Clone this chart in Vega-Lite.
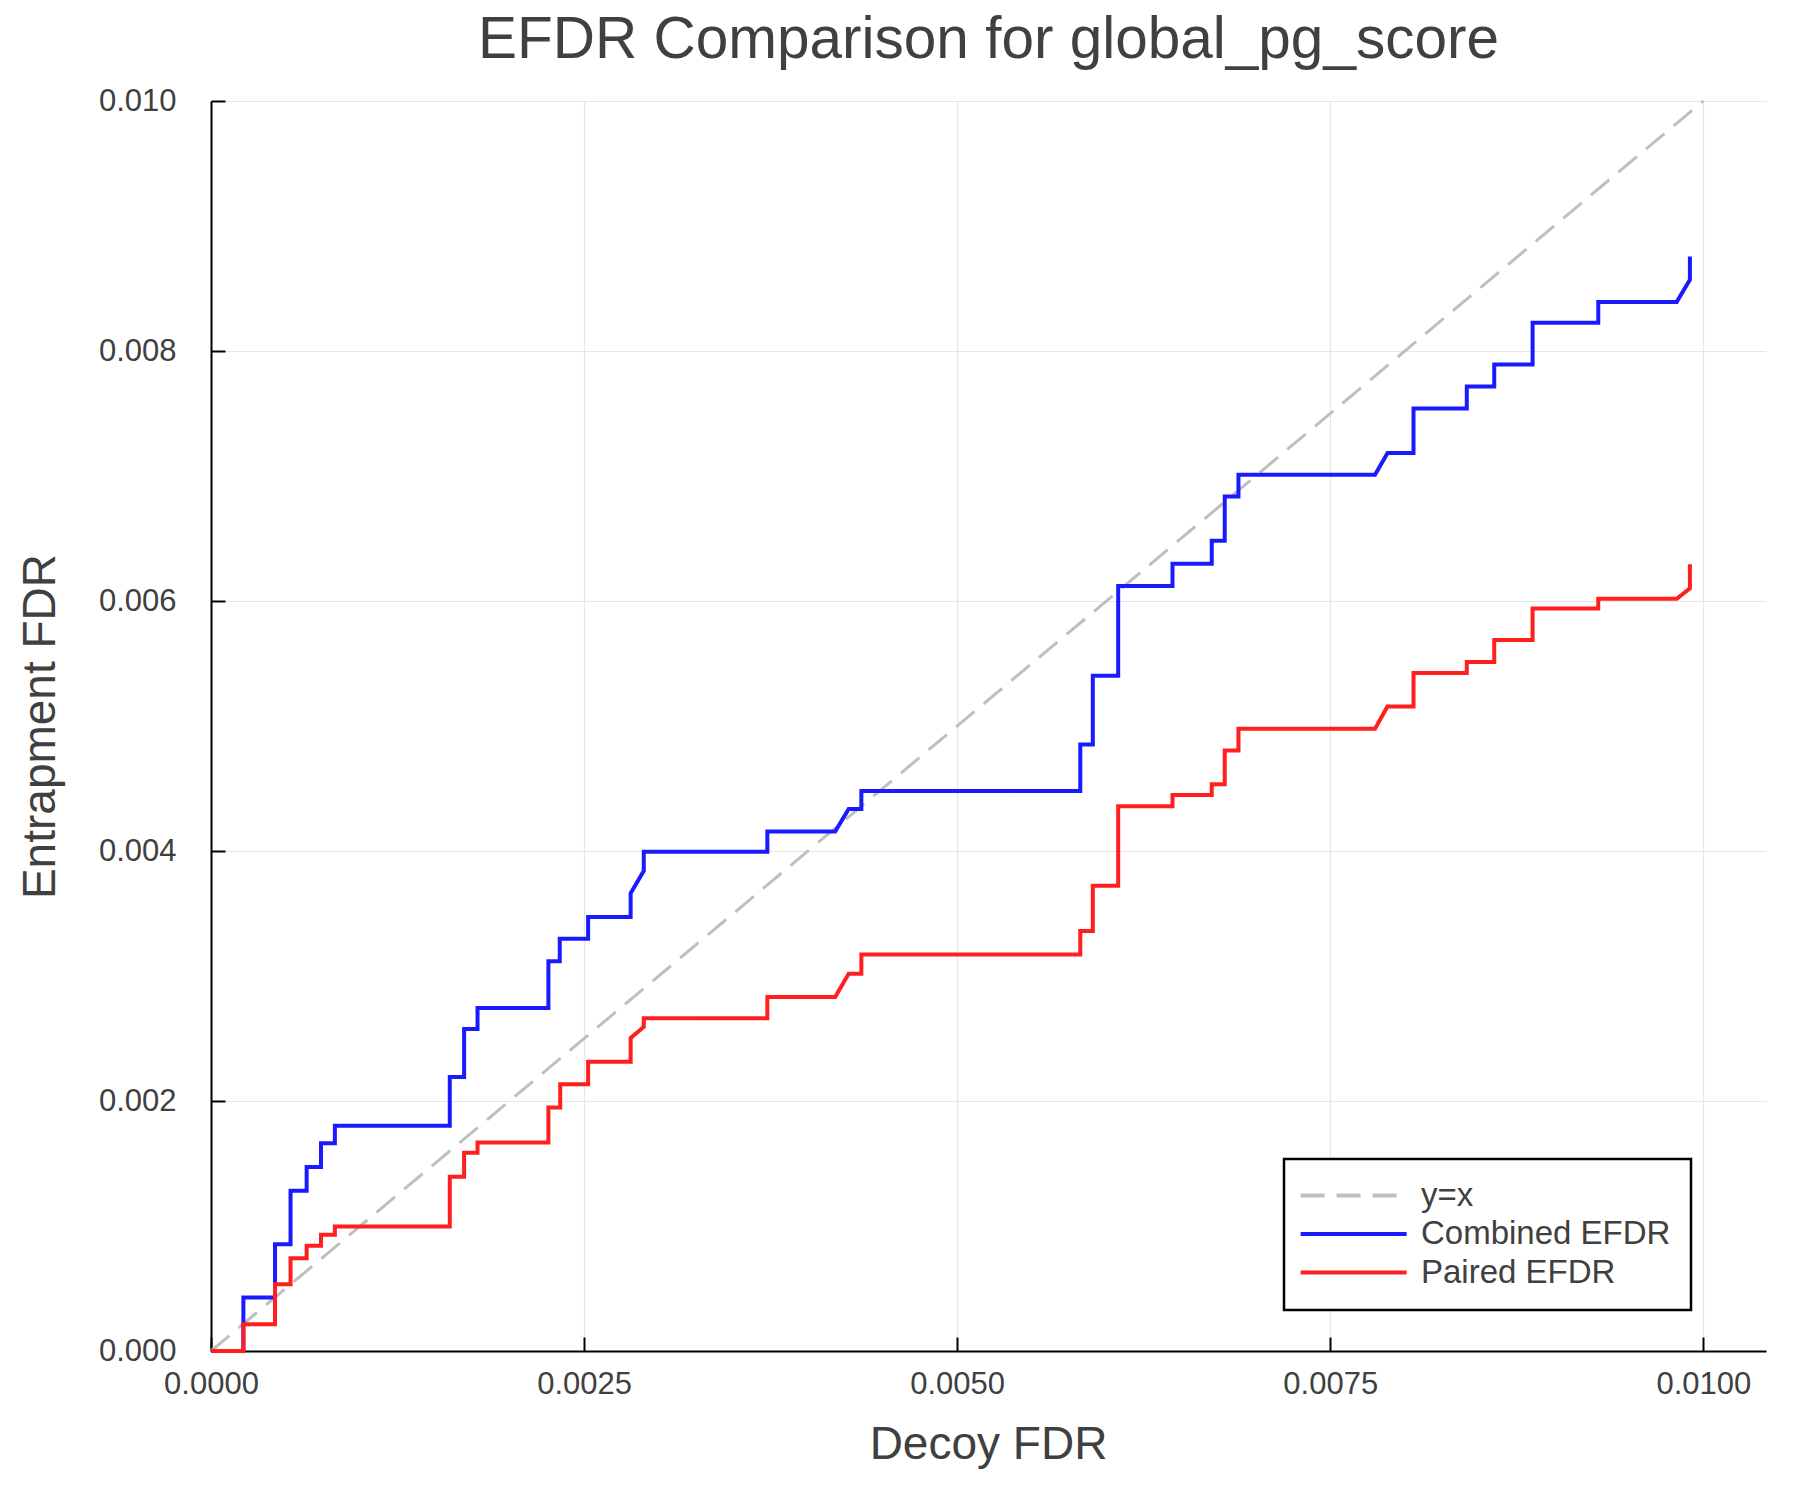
{
  "$schema": "https://vega.github.io/schema/vega-lite/v6.json",
  "width": 1555,
  "height": 1250,
  "autosize": {"type": "none"},
  "padding": {"left": 211, "top": 101, "right": 34, "bottom": 149},
  "background": "white",
  "title": {
    "text": "EFDR Comparison for global_pg_score",
    "fontSize": 58.5,
    "font": "Liberation Sans",
    "fontWeight": "normal",
    "color": "#404040",
    "anchor": "middle",
    "baseline": "alphabetic",
    "offset": 30,
    "dy": 61
  },
  "data": {
    "values": [
      {"series": "y=x", "i": 0, "x": 0, "y": 0},
      {"series": "y=x", "i": 1, "x": 0.01, "y": 0.01},

      {"series": "Combined EFDR", "i": 0, "x": 0, "y": 0},
      {"series": "Combined EFDR", "i": 1, "x": 0.000217, "y": 0},
      {"series": "Combined EFDR", "i": 2, "x": 0.000217, "y": 0.000429},
      {"series": "Combined EFDR", "i": 3, "x": 0.000429, "y": 0.000429},
      {"series": "Combined EFDR", "i": 4, "x": 0.000429, "y": 0.000855},
      {"series": "Combined EFDR", "i": 5, "x": 0.000533, "y": 0.000855},
      {"series": "Combined EFDR", "i": 6, "x": 0.000533, "y": 0.001282},
      {"series": "Combined EFDR", "i": 7, "x": 0.000641, "y": 0.001282},
      {"series": "Combined EFDR", "i": 8, "x": 0.000641, "y": 0.001472},
      {"series": "Combined EFDR", "i": 9, "x": 0.000737, "y": 0.001472},
      {"series": "Combined EFDR", "i": 10, "x": 0.000737, "y": 0.001662},
      {"series": "Combined EFDR", "i": 11, "x": 0.00083, "y": 0.001662},
      {"series": "Combined EFDR", "i": 12, "x": 0.00083, "y": 0.001802},
      {"series": "Combined EFDR", "i": 13, "x": 0.0016, "y": 0.001802},
      {"series": "Combined EFDR", "i": 14, "x": 0.0016, "y": 0.002193},
      {"series": "Combined EFDR", "i": 15, "x": 0.001696, "y": 0.002193},
      {"series": "Combined EFDR", "i": 16, "x": 0.001696, "y": 0.002577},
      {"series": "Combined EFDR", "i": 17, "x": 0.001786, "y": 0.002577},
      {"series": "Combined EFDR", "i": 18, "x": 0.001786, "y": 0.002745},
      {"series": "Combined EFDR", "i": 19, "x": 0.002261, "y": 0.002745},
      {"series": "Combined EFDR", "i": 20, "x": 0.002261, "y": 0.003119},
      {"series": "Combined EFDR", "i": 21, "x": 0.002337, "y": 0.003119},
      {"series": "Combined EFDR", "i": 22, "x": 0.002337, "y": 0.003299},
      {"series": "Combined EFDR", "i": 23, "x": 0.002527, "y": 0.003299},
      {"series": "Combined EFDR", "i": 24, "x": 0.002527, "y": 0.003472},
      {"series": "Combined EFDR", "i": 25, "x": 0.002812, "y": 0.003472},
      {"series": "Combined EFDR", "i": 26, "x": 0.002812, "y": 0.003662},
      {"series": "Combined EFDR", "i": 27, "x": 0.0029, "y": 0.003841},
      {"series": "Combined EFDR", "i": 28, "x": 0.0029, "y": 0.003994},
      {"series": "Combined EFDR", "i": 29, "x": 0.003728, "y": 0.003994},
      {"series": "Combined EFDR", "i": 30, "x": 0.003728, "y": 0.004157},
      {"series": "Combined EFDR", "i": 31, "x": 0.004183, "y": 0.004157},
      {"series": "Combined EFDR", "i": 32, "x": 0.004273, "y": 0.004336},
      {"series": "Combined EFDR", "i": 33, "x": 0.004358, "y": 0.004336},
      {"series": "Combined EFDR", "i": 34, "x": 0.004358, "y": 0.004481},
      {"series": "Combined EFDR", "i": 35, "x": 0.005825, "y": 0.004481},
      {"series": "Combined EFDR", "i": 36, "x": 0.005825, "y": 0.004852},
      {"series": "Combined EFDR", "i": 37, "x": 0.005909, "y": 0.004852},
      {"series": "Combined EFDR", "i": 38, "x": 0.005909, "y": 0.005403},
      {"series": "Combined EFDR", "i": 39, "x": 0.006079, "y": 0.005403},
      {"series": "Combined EFDR", "i": 40, "x": 0.006079, "y": 0.00612},
      {"series": "Combined EFDR", "i": 41, "x": 0.006443, "y": 0.00612},
      {"series": "Combined EFDR", "i": 42, "x": 0.006443, "y": 0.006298},
      {"series": "Combined EFDR", "i": 43, "x": 0.006706, "y": 0.006298},
      {"series": "Combined EFDR", "i": 44, "x": 0.006706, "y": 0.006482},
      {"series": "Combined EFDR", "i": 45, "x": 0.006793, "y": 0.006482},
      {"series": "Combined EFDR", "i": 46, "x": 0.006793, "y": 0.006837},
      {"series": "Combined EFDR", "i": 47, "x": 0.006885, "y": 0.006837},
      {"series": "Combined EFDR", "i": 48, "x": 0.006885, "y": 0.00701},
      {"series": "Combined EFDR", "i": 49, "x": 0.0078, "y": 0.00701},
      {"series": "Combined EFDR", "i": 50, "x": 0.007884, "y": 0.007184},
      {"series": "Combined EFDR", "i": 51, "x": 0.008058, "y": 0.007184},
      {"series": "Combined EFDR", "i": 52, "x": 0.008058, "y": 0.00754},
      {"series": "Combined EFDR", "i": 53, "x": 0.008415, "y": 0.00754},
      {"series": "Combined EFDR", "i": 54, "x": 0.008415, "y": 0.007716},
      {"series": "Combined EFDR", "i": 55, "x": 0.008599, "y": 0.007716},
      {"series": "Combined EFDR", "i": 56, "x": 0.008599, "y": 0.007893},
      {"series": "Combined EFDR", "i": 57, "x": 0.008856, "y": 0.007893},
      {"series": "Combined EFDR", "i": 58, "x": 0.008856, "y": 0.008227},
      {"series": "Combined EFDR", "i": 59, "x": 0.009296, "y": 0.008227},
      {"series": "Combined EFDR", "i": 60, "x": 0.009296, "y": 0.008393},
      {"series": "Combined EFDR", "i": 61, "x": 0.009822, "y": 0.008393},
      {"series": "Combined EFDR", "i": 62, "x": 0.00991, "y": 0.00857},
      {"series": "Combined EFDR", "i": 63, "x": 0.00991, "y": 0.008757},

      {"series": "Paired EFDR", "i": 0, "x": 0, "y": 0},
      {"series": "Paired EFDR", "i": 1, "x": 0.000217, "y": 0},
      {"series": "Paired EFDR", "i": 2, "x": 0.000217, "y": 0.000214},
      {"series": "Paired EFDR", "i": 3, "x": 0.000429, "y": 0.000214},
      {"series": "Paired EFDR", "i": 4, "x": 0.000429, "y": 0.000534},
      {"series": "Paired EFDR", "i": 5, "x": 0.000533, "y": 0.000534},
      {"series": "Paired EFDR", "i": 6, "x": 0.000533, "y": 0.000743},
      {"series": "Paired EFDR", "i": 7, "x": 0.000641, "y": 0.000743},
      {"series": "Paired EFDR", "i": 8, "x": 0.000641, "y": 0.000842},
      {"series": "Paired EFDR", "i": 9, "x": 0.000737, "y": 0.000842},
      {"series": "Paired EFDR", "i": 10, "x": 0.000737, "y": 0.00093},
      {"series": "Paired EFDR", "i": 11, "x": 0.00083, "y": 0.00093},
      {"series": "Paired EFDR", "i": 12, "x": 0.00083, "y": 0.000997},
      {"series": "Paired EFDR", "i": 13, "x": 0.0016, "y": 0.000997},
      {"series": "Paired EFDR", "i": 14, "x": 0.0016, "y": 0.001394},
      {"series": "Paired EFDR", "i": 15, "x": 0.001696, "y": 0.001394},
      {"series": "Paired EFDR", "i": 16, "x": 0.001696, "y": 0.001587},
      {"series": "Paired EFDR", "i": 17, "x": 0.001786, "y": 0.001587},
      {"series": "Paired EFDR", "i": 18, "x": 0.001786, "y": 0.001668},
      {"series": "Paired EFDR", "i": 19, "x": 0.002261, "y": 0.001668},
      {"series": "Paired EFDR", "i": 20, "x": 0.002261, "y": 0.001949},
      {"series": "Paired EFDR", "i": 21, "x": 0.00234, "y": 0.001949},
      {"series": "Paired EFDR", "i": 22, "x": 0.00234, "y": 0.002134},
      {"series": "Paired EFDR", "i": 23, "x": 0.002527, "y": 0.002134},
      {"series": "Paired EFDR", "i": 24, "x": 0.002527, "y": 0.002314},
      {"series": "Paired EFDR", "i": 25, "x": 0.002812, "y": 0.002314},
      {"series": "Paired EFDR", "i": 26, "x": 0.002812, "y": 0.002504},
      {"series": "Paired EFDR", "i": 27, "x": 0.0029, "y": 0.002593},
      {"series": "Paired EFDR", "i": 28, "x": 0.0029, "y": 0.002662},
      {"series": "Paired EFDR", "i": 29, "x": 0.003728, "y": 0.002662},
      {"series": "Paired EFDR", "i": 30, "x": 0.003728, "y": 0.002833},
      {"series": "Paired EFDR", "i": 31, "x": 0.004183, "y": 0.002833},
      {"series": "Paired EFDR", "i": 32, "x": 0.004273, "y": 0.003018},
      {"series": "Paired EFDR", "i": 33, "x": 0.004358, "y": 0.003018},
      {"series": "Paired EFDR", "i": 34, "x": 0.004358, "y": 0.003173},
      {"series": "Paired EFDR", "i": 35, "x": 0.005825, "y": 0.003173},
      {"series": "Paired EFDR", "i": 36, "x": 0.005825, "y": 0.00336},
      {"series": "Paired EFDR", "i": 37, "x": 0.005909, "y": 0.00336},
      {"series": "Paired EFDR", "i": 38, "x": 0.005909, "y": 0.003722},
      {"series": "Paired EFDR", "i": 39, "x": 0.006079, "y": 0.003722},
      {"series": "Paired EFDR", "i": 40, "x": 0.006079, "y": 0.004358},
      {"series": "Paired EFDR", "i": 41, "x": 0.006443, "y": 0.004358},
      {"series": "Paired EFDR", "i": 42, "x": 0.006443, "y": 0.004448},
      {"series": "Paired EFDR", "i": 43, "x": 0.006706, "y": 0.004448},
      {"series": "Paired EFDR", "i": 44, "x": 0.006706, "y": 0.004534},
      {"series": "Paired EFDR", "i": 45, "x": 0.006793, "y": 0.004534},
      {"series": "Paired EFDR", "i": 46, "x": 0.006793, "y": 0.004804},
      {"series": "Paired EFDR", "i": 47, "x": 0.006885, "y": 0.004804},
      {"series": "Paired EFDR", "i": 48, "x": 0.006885, "y": 0.004978},
      {"series": "Paired EFDR", "i": 49, "x": 0.0078, "y": 0.004978},
      {"series": "Paired EFDR", "i": 50, "x": 0.007884, "y": 0.005157},
      {"series": "Paired EFDR", "i": 51, "x": 0.008058, "y": 0.005157},
      {"series": "Paired EFDR", "i": 52, "x": 0.008058, "y": 0.005425},
      {"series": "Paired EFDR", "i": 53, "x": 0.008415, "y": 0.005425},
      {"series": "Paired EFDR", "i": 54, "x": 0.008415, "y": 0.005513},
      {"series": "Paired EFDR", "i": 55, "x": 0.008599, "y": 0.005513},
      {"series": "Paired EFDR", "i": 56, "x": 0.008599, "y": 0.005689},
      {"series": "Paired EFDR", "i": 57, "x": 0.008856, "y": 0.005689},
      {"series": "Paired EFDR", "i": 58, "x": 0.008856, "y": 0.005941},
      {"series": "Paired EFDR", "i": 59, "x": 0.009296, "y": 0.005941},
      {"series": "Paired EFDR", "i": 60, "x": 0.009296, "y": 0.006018},
      {"series": "Paired EFDR", "i": 61, "x": 0.009822, "y": 0.006018},
      {"series": "Paired EFDR", "i": 62, "x": 0.00991, "y": 0.006101},
      {"series": "Paired EFDR", "i": 63, "x": 0.00991, "y": 0.006294}
    ]
  },
  "encoding": {
    "x": {
      "field": "x",
      "type": "quantitative",
      "title": "Decoy FDR",
      "scale": {"domain": [0, 0.01042], "nice": false, "zero": false},
      "axis": {
        "values": [0, 0.0025, 0.005, 0.0075, 0.01],
        "format": ".4f",
        "labelFlush": false,
        "labelOverlap": false,
        "labelPadding": 32,
        "titleX": 777,
        "titleY": 107,
        "titleAlign": "center",
        "titleBaseline": "alphabetic"
      }
    },
    "y": {
      "field": "y",
      "type": "quantitative",
      "title": "Entrapment FDR",
      "scale": {"domain": [0, 0.01], "nice": false, "zero": false},
      "axis": {
        "values": [0, 0.002, 0.004, 0.006, 0.008, 0.01],
        "format": ".3f",
        "labelFlush": false,
        "labelOverlap": false,
        "labelPadding": 49,
        "titleX": -157,
        "titleY": 625,
        "titleAngle": 270,
        "titleAlign": "center",
        "titleBaseline": "alphabetic"
      }
    },
    "order": {"field": "i", "type": "quantitative"},
    "color": {
      "field": "series",
      "type": "nominal",
      "scale": {
        "domain": ["y=x", "Combined EFDR", "Paired EFDR"],
        "range": ["#bfbfbf", "#1a1aff", "#ff1f1f"]
      },
      "legend": {
        "title": null,
        "orient": "none",
        "legendX": 1073,
        "legendY": 1058
      }
    },
    "strokeDash": {
      "field": "series",
      "type": "nominal",
      "scale": {
        "domain": ["y=x", "Combined EFDR", "Paired EFDR"],
        "range": [[24, 12], [1, 0], [1, 0]]
      },
      "legend": {
        "title": null,
        "orient": "none",
        "legendX": 1073,
        "legendY": 1058
      }
    }
  },
  "layer": [
    {
      "transform": [{"filter": "datum.series === 'y=x'"}],
      "mark": {"type": "line", "strokeWidth": 3}
    },
    {
      "transform": [{"filter": "datum.series === 'Combined EFDR'"}],
      "mark": {"type": "line", "strokeWidth": 4}
    },
    {
      "transform": [{"filter": "datum.series === 'Paired EFDR'"}],
      "mark": {"type": "line", "strokeWidth": 4}
    }
  ],
  "config": {
    "view": {"stroke": null},
    "axis": {
      "domainColor": "black",
      "domainWidth": 2,
      "tickColor": "black",
      "tickWidth": 2,
      "tickSize": -14,
      "gridColor": "#e6e6e6",
      "gridWidth": 1.2,
      "labelFont": "Liberation Sans",
      "labelFontSize": 31,
      "labelColor": "#404040",
      "titleFont": "Liberation Sans",
      "titleFontSize": 46,
      "titleFontWeight": "normal",
      "titleColor": "#404040"
    },
    "legend": {
      "strokeColor": "black",
      "strokeWidth": 2.5,
      "fillColor": "white",
      "padding": 20,
      "cornerRadius": 0,
      "labelFont": "Liberation Sans",
      "labelFontSize": 33,
      "labelColor": "#404040",
      "labelLimit": 500,
      "labelOffset": 84,
      "rowPadding": 4.5,
      "symbolType": "M-1.5,0H6.5",
      "symbolSize": 702,
      "symbolStrokeWidth": 4,
      "symbolFillColor": "transparent"
    }
  }
}
